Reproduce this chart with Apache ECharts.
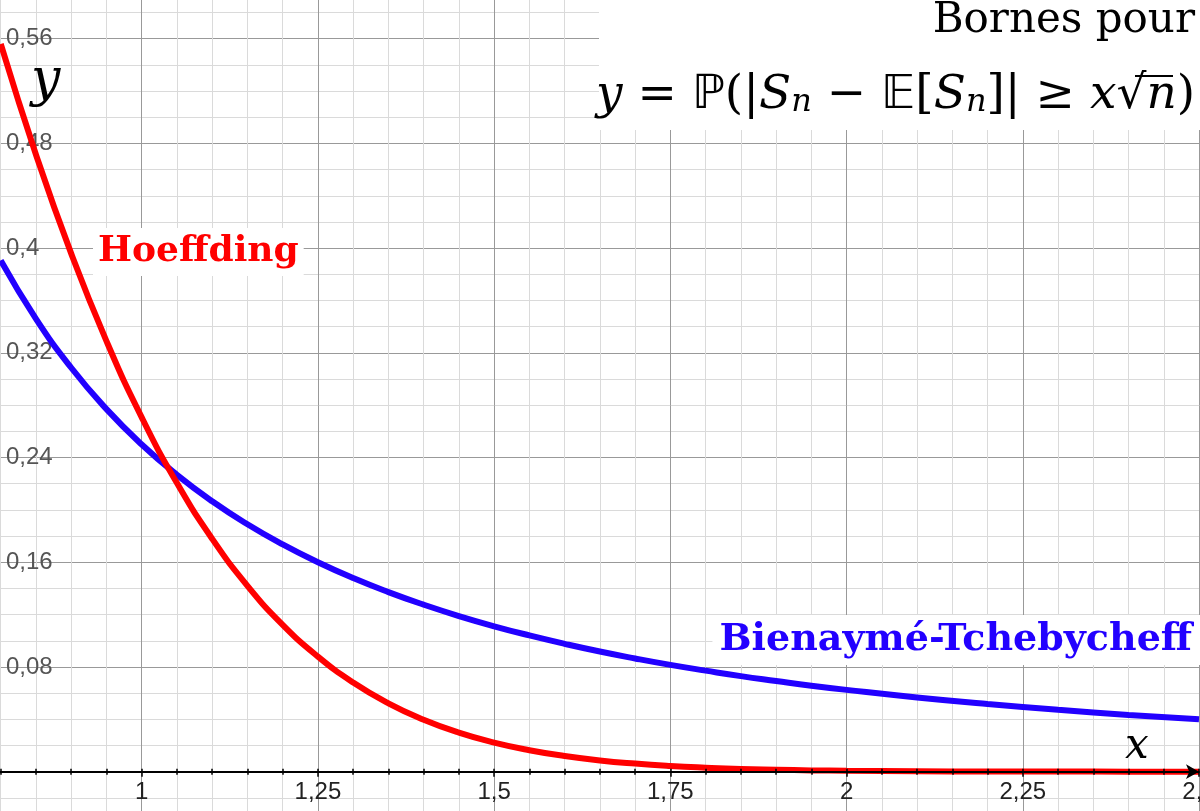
<!DOCTYPE html>
<html><head><meta charset="utf-8">
<script src="https://cdn.jsdelivr.net/npm/echarts@6/dist/echarts.min.js"></script>
<style>html,body{margin:0;padding:0;background:#fff}#c{width:1200px;height:811px}</style>
</head><body><div id="c"></div>
<script>
const xValues = [0.8,0.85,0.9,0.95,1,1.05,1.1,1.15,1.2,1.25,1.3,1.35,1.4,1.45,1.5,1.55,1.6,1.65,1.7,1.75,1.8,1.85,1.9,1.95,2,2.1,2.2,2.3,2.4,2.5];
const hoeffding = [0.5560,0.4714,0.3958,0.3290,0.2707,0.2205,0.1779,0.1420,0.1122,0.0879,0.0681,0.0522,0.0397,0.0298,0.0222,0.0164,0.0120,0.0086,0.0062,0.0044,0.0031,0.0021,0.0015,0.0010,0.0007,0.0003,0.0001,0.0001,0.0000,0.0000];
const bienayme = [0.3906,0.3460,0.3086,0.2770,0.2500,0.2268,0.2066,0.1890,0.1736,0.1600,0.1479,0.1372,0.1276,0.1189,0.1111,0.1041,0.0977,0.0918,0.0865,0.0816,0.0772,0.0730,0.0693,0.0657,0.0625,0.0567,0.0517,0.0473,0.0434,0.0400];
const xTickValues = [1, 1.25, 1.5, 1.75, 2, 2.25, 2.5];
const xTickLabels = ['1', '1,25', '1,5', '1,75', '2', '2,25', '2,5'];
const yTickValues = [0.08, 0.16, 0.24, 0.32, 0.4, 0.48, 0.56];
const yTickLabels = ['0,08', '0,16', '0,24', '0,32', '0,4', '0,48', '0,56'];

function lookup(v, vals, labels) {
  for (let i = 0; i < vals.length; i++) if (Math.abs(v - vals[i]) < 1e-6) return labels[i];
  return '';
}
const X = {min: 0.75, max: 2.5};
const Y = {min: -0.08, max: 0.64};
const hidden = {axisLine: {show: false, onZero: true, onZeroAxisIndex: 0}, axisTick: {show: false}, axisLabel: {show: false}};
const chart = echarts.init(document.getElementById('c'), null, {renderer: 'canvas'});
const option = {
  animation: false,
  grid: {left: -34.5, right: 1, top: -66, bottom: -65.4, outerBoundsMode: 'none'},
  xAxis: [
    Object.assign({type: 'value', position: 'bottom', interval: 0.05, splitLine: {show: true, lineStyle: {color: '#dadada', width: 1}}}, X, hidden),
    Object.assign({type: 'value', position: 'bottom', interval: 0.25, splitLine: {show: true, lineStyle: {color: '#999999', width: 1}}}, X, hidden),
    Object.assign({type: 'value', position: 'bottom', interval: 0.25, z: 5,
      axisLine: {show: true, onZero: true, onZeroAxisIndex: 0, symbol: ['none', 'arrow'], symbolSize: [11, 13], lineStyle: {color: '#000', width: 2}},
      axisTick: {show: true, length: 5, lineStyle: {color: '#000', width: 1.5}},
      minorTick: {show: true, splitNumber: 5, length: 3, lineStyle: {color: '#000', width: 1.5}},
      axisLabel: {show: false}, splitLine: {show: false}}, X),
    Object.assign({type: 'value', position: 'bottom', interval: 0.05, z: 5,
      axisLine: {show: false, onZero: true, onZeroAxisIndex: 0},
      axisTick: {show: true, inside: true, length: 3, lineStyle: {color: '#000', width: 1.5}},
      axisLabel: {show: false}, splitLine: {show: false}}, X),
    Object.assign({type: 'value', position: 'bottom', interval: 0.25, z: 5,
      axisLine: {show: false, onZero: false}, axisTick: {show: false}, splitLine: {show: false},
      axisLabel: {show: true, margin: -96, color: '#222', fontSize: 24, fontFamily: 'Liberation Sans',
        formatter: v => lookup(v, xTickValues, xTickLabels)}}, X)
  ],
  yAxis: [
    Object.assign({type: 'value', position: 'left', interval: 0.02, splitLine: {show: true, lineStyle: {color: '#dadada', width: 1}}}, Y, hidden),
    Object.assign({type: 'value', position: 'left', interval: 0.08,
      axisLine: {show: false}, axisTick: {show: false},
      axisLabel: {show: true, inside: true, margin: 40.5, color: '#555', fontSize: 24, fontFamily: 'Liberation Sans',
        formatter: v => lookup(v, yTickValues, yTickLabels)},
      splitLine: {show: true, lineStyle: {color: '#999999', width: 1}}}, Y)
  ],
  series: [
    {type: 'line', name: 'Bienaymé-Tchebycheff', xAxisIndex: 0, yAxisIndex: 0, smooth: true, showSymbol: false,
      lineStyle: {color: '#2200ff', width: 6}, data: xValues.map((x, i) => [x, bienayme[i]])},
    {type: 'line', name: 'Hoeffding', xAxisIndex: 0, yAxisIndex: 0, smooth: true, showSymbol: false,
      lineStyle: {color: '#ff0000', width: 6}, data: xValues.map((x, i) => [x, hoeffding[i]])}
  ],
  graphic: [
    {type: 'rect', z: 1, shape: {x: 599, y: 0, width: 601, height: 130}, style: {fill: '#fff'}},
    {type: 'text', z: 3, right: 5, top: 0, style: {text: 'Bornes pour', fill: '#000', font: '42px "DejaVu Serif"'}},
    {type: 'text', z: 3, right: 5, top: 72, style: {
      text: '{i|y}{r| = }{d|ℙ}{r|(|}{i|S}{s|n}{r| − }{d|𝔼}{r|[}{i|S}{s|n}{r|]| ≥ }{i|x}{r|√}{i|n}{r|)}',
      fill: '#000',
      rich: {
        i: {fontFamily: 'DejaVu Serif', fontStyle: 'italic', fontSize: 47, fill: '#000'},
        r: {fontFamily: 'DejaVu Serif', fontSize: 47, fill: '#000'},
        d: {fontFamily: 'DejaVu Sans', fontSize: 47, fill: '#000'},
        s: {fontFamily: 'DejaVu Serif', fontStyle: 'italic', fontSize: 32, fill: '#000', verticalAlign: 'bottom', padding: [10, 0, 0, 0]}
      }}},
    {type: 'line', z: 3, shape: {x1: 1135, y1: 76, x2: 1173, y2: 76}, style: {stroke: '#000', lineWidth: 2}},
    {type: 'text', z: 1, left: 93, top: 228, style: {text: 'Hoeffding', fill: '#ff0000', font: 'bold 36px "DejaVu Serif"', backgroundColor: '#fff', padding: [6, 5, 6, 5]}},
    {type: 'text', z: 1, right: 0, top: 615, style: {text: 'Bienaymé-Tchebycheff', fill: '#2200ff', font: 'bold 38px "DejaVu Serif"', backgroundColor: '#fff', padding: [6, 8, 6, 7]}},
    {type: 'text', z: 3, left: 31, top: 55, style: {text: 'y', fill: '#000', font: 'italic 52px "DejaVu Serif"'}},
    {type: 'text', z: 3, left: 1125, top: 726, style: {text: 'x', fill: '#000', font: 'italic 42px "DejaVu Serif"'}}
  ]
};
chart.setOption(option);
</script>
</body></html>
